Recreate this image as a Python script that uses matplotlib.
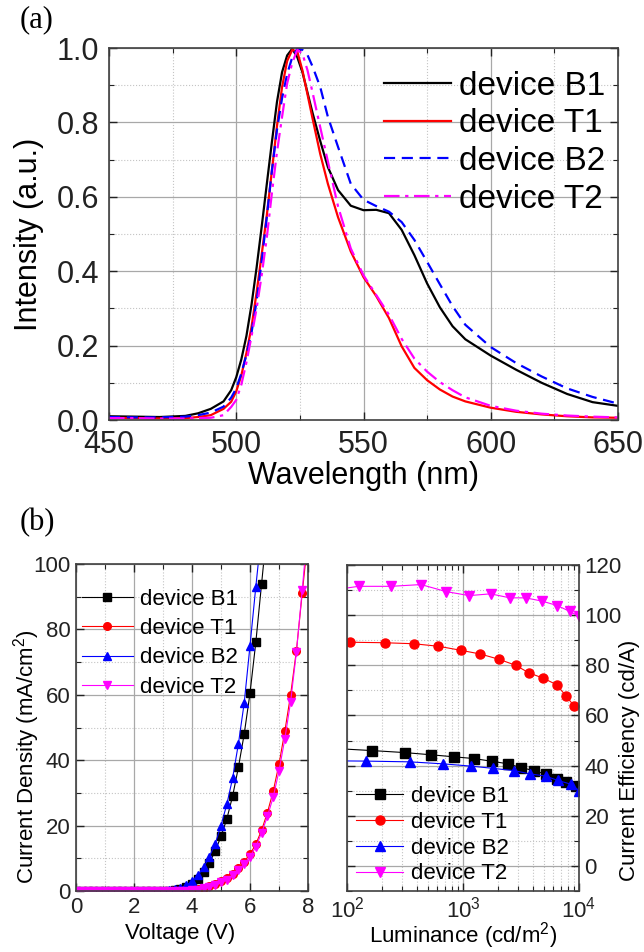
import matplotlib
matplotlib.use('Agg')
import matplotlib.pyplot as plt
from matplotlib.ticker import MultipleLocator, NullFormatter, LogLocator

plt.rcParams['font.family'] = ['Liberation Sans', 'DejaVu Sans']
plt.rcParams['mathtext.fontset'] = 'custom'
plt.rcParams['mathtext.rm'] = 'Liberation Sans'
plt.rcParams['mathtext.it'] = 'Liberation Sans:italic'
plt.rcParams['mathtext.bf'] = 'Liberation Sans:bold'

# ---------------- (a) EL spectra ----------------
wavelength = [450, 460, 470, 480, 485, 490, 495, 498, 500, 502, 504, 506, 508, 510, 512, 514, 516, 518,
              520, 522, 524, 526, 528, 530, 533, 536, 540, 545, 550, 555, 560, 565, 570, 575, 580, 585,
              590, 600, 610, 620, 630, 640, 650]
spec_B1 = [0.010, 0.009, 0.008, 0.011, 0.018, 0.030, 0.050, 0.080, 0.115, 0.163, 0.226, 0.310, 0.410, 0.520,
           0.634, 0.747, 0.855, 0.935, 0.980, 0.998, 0.975, 0.935, 0.880, 0.825, 0.750, 0.680, 0.618, 0.576,
           0.564, 0.565, 0.556, 0.511, 0.443, 0.367, 0.303, 0.252, 0.217, 0.173, 0.135, 0.100, 0.070, 0.048,
           0.038]
spec_T1 = [0.006, 0.005, 0.004, 0.005, 0.008, 0.013, 0.030, 0.049, 0.077, 0.120, 0.180, 0.250, 0.343, 0.445,
           0.550, 0.670, 0.790, 0.895, 0.965, 0.995, 0.990, 0.940, 0.875, 0.810, 0.715, 0.635, 0.545, 0.453,
           0.384, 0.333, 0.274, 0.198, 0.140, 0.107, 0.082, 0.063, 0.050, 0.033, 0.022, 0.015, 0.010, 0.007,
           0.006]
spec_B2 = [0.008, 0.007, 0.007, 0.009, 0.013, 0.020, 0.036, 0.060, 0.085, 0.125, 0.175, 0.235, 0.320, 0.428,
           0.545, 0.670, 0.780, 0.865, 0.930, 0.975, 0.998, 0.995, 0.981, 0.950, 0.895, 0.815, 0.734, 0.635,
           0.592, 0.575, 0.560, 0.532, 0.484, 0.425, 0.365, 0.306, 0.256, 0.196, 0.153, 0.117, 0.085, 0.062,
           0.044]
spec_T2 = [0.005, 0.005, 0.004, 0.004, 0.005, 0.006, 0.013, 0.035, 0.054, 0.095, 0.155, 0.225, 0.300, 0.390,
           0.490, 0.610, 0.720, 0.815, 0.905, 0.960, 0.995, 0.985, 0.940, 0.880, 0.787, 0.695, 0.574, 0.461,
           0.389, 0.336, 0.283, 0.218, 0.165, 0.130, 0.102, 0.080, 0.061, 0.038, 0.025, 0.017, 0.012, 0.009,
           0.007]

# ---------------- (b) J-V ----------------
V_B1 = [0.0, 0.2, 0.4, 0.6, 0.8, 1.0, 1.2, 1.4, 1.6, 1.8, 2.0, 2.2, 2.4, 2.6, 2.8, 3.0, 3.2, 3.4, 3.6, 3.8,
        4.0, 4.2, 4.4, 4.6, 4.8, 5.0, 5.2, 5.4, 5.6, 5.8, 6.0, 6.2, 6.4, 6.6]
J_B1 = [0.0, 0.0, 0.0, 0.0, 0.0, 0.0, 0.0, 0.0, 0.0, 0.0, 0.0, 0.0, 0.0, 0.0, 0.0, 0.05, 0.1, 0.25, 0.55, 1.2,
        2.1, 3.6, 5.7, 8.6, 12.2, 16.7, 22.0, 29.0, 37.8, 48.0, 60.5, 76.0, 94.0, 112.0]
V_B2 = [0.0, 0.2, 0.4, 0.6, 0.8, 1.0, 1.2, 1.4, 1.6, 1.8, 2.0, 2.2, 2.4, 2.6, 2.8, 3.0, 3.2, 3.4, 3.6, 3.8,
        4.0, 4.2, 4.4, 4.6, 4.8, 5.0, 5.2, 5.4, 5.6, 5.8, 6.0, 6.2, 6.4]
J_B2 = [0.0, 0.0, 0.0, 0.0, 0.0, 0.0, 0.0, 0.0, 0.0, 0.0, 0.0, 0.0, 0.0, 0.0, 0.0, 0.1, 0.25, 0.5, 0.9, 1.7,
        3.0, 4.8, 7.2, 10.5, 14.5, 20.0, 26.5, 34.5, 45.0, 57.5, 75.0, 93.0, 110.0]
V_T = [0.0, 0.2, 0.4, 0.6, 0.8, 1.0, 1.2, 1.4, 1.6, 1.8, 2.0, 2.2, 2.4, 2.6, 2.8, 3.0, 3.2, 3.4, 3.6, 3.8,
       4.0, 4.2, 4.4, 4.6, 4.8, 5.0, 5.2, 5.4, 5.6, 5.8, 6.0, 6.2, 6.4, 6.6, 6.8, 7.0, 7.2, 7.4, 7.6, 7.8, 8.0]
J_T1 = [0.0, 0.0, 0.0, 0.0, 0.0, 0.0, 0.0, 0.0, 0.0, 0.0, 0.0, 0.0, 0.0, 0.0, 0.0, 0.0, 0.0, 0.0, 0.0, 0.0,
        0.3, 0.6, 1.0, 1.5, 2.2, 3.0, 4.0, 5.3, 7.0, 9.0, 11.3, 14.3, 18.6, 24.0, 30.5, 38.8, 48.8, 60.0,
        73.5, 91.0, 108.0]
J_T2 = [0.0, 0.0, 0.0, 0.0, 0.0, 0.0, 0.0, 0.0, 0.0, 0.0, 0.0, 0.0, 0.0, 0.0, 0.0, 0.0, 0.0, 0.0, 0.0, 0.0,
        0.2, 0.4, 0.8, 1.2, 1.8, 2.6, 3.5, 4.8, 6.3, 8.2, 10.5, 13.5, 17.8, 22.8, 28.7, 36.7, 46.5, 57.8,
        73.0, 92.0, 112.0]

# ---------------- (b) CE-L ----------------
L_B1 = [80, 164, 314, 535, 841, 1250, 1786, 2455, 3155, 4102, 5236, 6471, 7780, 9354]
CE_B1 = [46.8, 46.0, 45.2, 44.3, 43.5, 42.8, 41.7, 40.7, 39.2, 38.0, 36.5, 34.7, 33.3, 32.0]
L_T1 = [107, 211, 376, 612, 955, 1413, 2042, 2851, 3690, 4898, 6457, 7674, 9120]
CE_T1 = [89.2, 89.0, 88.6, 87.6, 86.0, 84.5, 82.4, 80.0, 77.0, 74.9, 72.2, 67.9, 63.7]
L_B2 = [80, 145, 347, 676, 1169, 1820, 2754, 3776, 5176, 6561, 8511, 10000]
CE_B2 = [41.9, 41.8, 41.5, 40.7, 39.8, 38.9, 38.0, 36.7, 35.8, 34.1, 32.6, 30.0]
L_T2 = [80, 126, 240, 435, 715, 1130, 1730, 2535, 3460, 4810, 6520, 8320, 10000]
CE_T2 = [110.2, 111.5, 111.5, 112.2, 109.4, 107.8, 108.5, 106.9, 106.9, 105.6, 103.8, 101.5, 99.5]

labels = ['device B1', 'device T1', 'device B2', 'device T2']
colors = ['black', '#ff0000', '#0000ff', '#ff00ff']

W, H = 644, 952


def rect(l, r, t, b):
    return [l / W, 1 - b / H, (r - l) / W, (b - t) / H]


def ftext(x, y, s, **kw):
    fig.text(x / W, 1 - y / H, s, ha='center', va='center', **kw)


def style(ax, fs):
    ax.tick_params(which='both', direction='in', top=True, right=True, labelsize=fs, colors='#222222')
    ax.tick_params(which='major', length=6, width=1.0)
    ax.tick_params(which='minor', length=3.5, width=0.8)
    ax.grid(which='major', color='#a8a8a8', lw=0.9, ls='-')
    ax.grid(which='minor', color='#c4c4c4', lw=0.8, ls=':')
    ax.set_axisbelow(True)
    for s in ax.spines.values():
        s.set_linewidth(1.2)
        s.set_color('#404040')


fig = plt.figure(figsize=(6.44, 9.52), dpi=100)

# ---- panel (a)
axA = fig.add_axes(rect(109, 618, 48, 420))
styles = ['-', '-', (0, (5, 3)), (0, (7, 2.5, 1.5, 2.5))]
for y, c, ls, lab in zip([spec_B1, spec_T1, spec_B2, spec_T2], colors, styles, labels):
    axA.plot(wavelength, y, color=c, ls=ls, lw=1.6, label=lab)
axA.set_xlim(450, 650)
axA.set_ylim(0, 1.0)
axA.xaxis.set_major_locator(MultipleLocator(50))
axA.xaxis.set_minor_locator(MultipleLocator(25))
axA.yaxis.set_major_locator(MultipleLocator(0.2))
axA.yaxis.set_minor_locator(MultipleLocator(0.1))
style(axA, 22)
axA.tick_params(which='both', pad=7)
ftext(363, 476, 'Wavelength (nm)', fontsize=22)
ftext(29, 234, 'Intensity (a.u.)', fontsize=22, rotation=90)
axA.legend(loc='upper right', bbox_to_anchor=(0.975, 0.939), frameon=False, fontsize=24,
           handlelength=2.0, handletextpad=0.25, labelspacing=0.2, borderpad=0, borderaxespad=0)

# ---- panel (b) left
axL = fig.add_axes(rect(76, 308, 564, 891))
markers = ['s', 'o', '^', 'v']
jv = [(V_B1, J_B1), (V_T, J_T1), (V_B2, J_B2), (V_T, J_T2)]
for (x, y), c, m, lab in zip(jv, colors, markers, labels):
    axL.plot(x, y, color=c, marker=m, ms=5.5, lw=0.8, label=lab)
axL.set_xlim(0, 8)
axL.set_ylim(0, 100)
axL.xaxis.set_major_locator(MultipleLocator(2))
axL.xaxis.set_minor_locator(MultipleLocator(1))
axL.yaxis.set_major_locator(MultipleLocator(20))
axL.yaxis.set_minor_locator(MultipleLocator(10))
style(axL, 16)
axL.tick_params(which='both', pad=4)
ftext(180, 934, 'Voltage (V)', fontsize=16)
ftext(27, 757, 'Current Density (mA/cm$^2$)', fontsize=16, rotation=90)
axL.legend(loc='upper left', bbox_to_anchor=(0.025, 0.925), frameon=False, fontsize=16,
           handlelength=2.3, handletextpad=0.3, labelspacing=0.38, borderpad=0, borderaxespad=0)

# ---- panel (b) right
axR = fig.add_axes(rect(347, 579, 565, 891))
cel = [(L_B1, CE_B1), (L_T1, CE_T1), (L_B2, CE_B2), (L_T2, CE_T2)]
for (x, y), c, m, lab in zip(cel, colors, markers, labels):
    axR.plot(x, y, color=c, marker=m, ms=6.5, lw=0.8, label=lab)
axR.set_xscale('log')
axR.set_xlim(1e2, 1e4)
axR.set_ylim(-10, 120)
axR.xaxis.set_major_locator(LogLocator(base=10))
axR.xaxis.set_minor_locator(LogLocator(base=10, subs=[2, 3, 4, 5, 6, 7, 8, 9]))
axR.xaxis.set_minor_formatter(NullFormatter())
axR.yaxis.set_major_locator(MultipleLocator(20))
axR.yaxis.set_minor_locator(MultipleLocator(10))
style(axR, 16)
axR.tick_params(which='both', pad=4, labelleft=False, labelright=True)
ftext(463, 936, 'Luminance (cd/m$^2$)', fontsize=16)
ftext(630, 760, 'Current Efficiency (cd/A)', fontsize=16, rotation=90)
axR.legend(loc='lower left', bbox_to_anchor=(0.04, 0.02), frameon=False, fontsize=16,
           handlelength=2.1, handletextpad=0.35, labelspacing=0.22, borderpad=0, borderaxespad=0)

ftext(37, 20, '(a)', family='Liberation Serif', fontsize=22)
ftext(37, 523, '(b)', family='Liberation Serif', fontsize=22)

fig.savefig('out.png', dpi=100, facecolor='white')
